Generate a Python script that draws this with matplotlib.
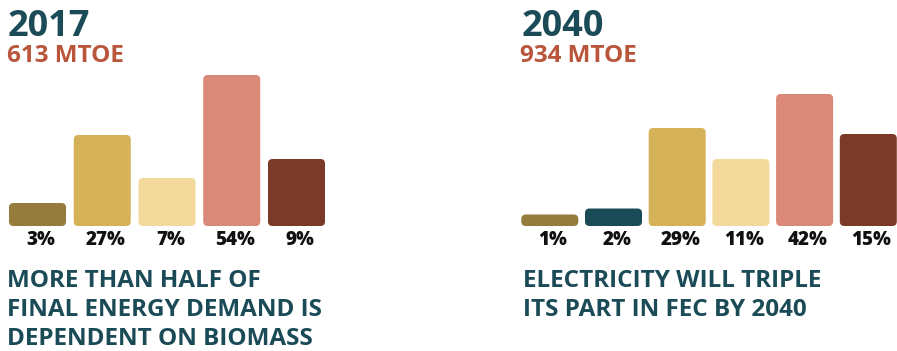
import numpy as np
import matplotlib
matplotlib.use('Agg')
import matplotlib.pyplot as plt
from matplotlib.patches import FancyBboxPatch

# ---------------------------------------------- Data
labels_2017 = ['3%', '27%', '7%', '54%', '9%']
heights_2017 = [23, 91, 48, 151, 67]
colors_2017 = ['#957B3C', '#D5B257', '#F3DA9C', '#DA8878', '#7B3A27']

labels_2040 = ['1%', '2%', '29%', '11%', '42%', '15%']
heights_2040 = [11.5, 17.5, 98, 67, 132, 92]
colors_2040 = ['#957B3C', '#1B4B57', '#D5B257', '#F3DA9C', '#DA8878', '#7B3A27']

years = ['2017', '2040']
totals = ['613 MTOE', '934 MTOE']
captions = ['MORE THAN HALF OF\nFINAL ENERGY DEMAND IS\nDEPENDENT ON BIOMASS',
            'ELECTRICITY WILL TRIPLE\nITS PART IN FEC BY 2040']

# ---------------------------------------------- Style
W, H = 897, 351
TEAL = '#1B4B57'
RUST = '#B9553B'
FONT = 'Open Sans'
plt.rcParams['font.family'] = [FONT, 'DejaVu Sans']

fig = plt.figure(figsize=(W / 100, H / 100), dpi=100)


def px(x, y):
    return x / W, 1 - y / H


def panel(first_center, pitch, bar_w, right_px, heights, colors, labels):
    # axes in pixel units: 1 y-unit = 1 px, 1 x-unit = pitch px
    base = 226
    top = 40
    left = first_center - pitch / 2
    ax = fig.add_axes([left / W, (H - base) / H, (right_px - left) / W, (base - top) / H])
    n = len(heights)
    x = np.arange(n)
    bars = ax.bar(x, heights, width=bar_w / pitch, color=colors)
    ax.set_xlim(-0.5, -0.5 + (right_px - left) / pitch)
    ax.set_ylim(0, base - top)
    # swap plain rectangles for rounded ones
    for b, c in zip(bars, colors):
        b.set_visible(False)
        r = min(4.5, b.get_height() / 2)
        ax.add_patch(FancyBboxPatch((b.get_x(), b.get_y()), b.get_width(), b.get_height(),
                                    boxstyle='round,pad=0,rounding_size=%f' % (r / pitch),
                                    mutation_aspect=pitch, fc=c, ec='none'))
    for xi, lab in zip(x, labels):
        ax.text(xi + 0.05, -14, lab, ha='center', va='center', fontsize=13.5,
                fontweight=800, color='#111111', clip_on=False)
    ax.axis('off')
    return ax


panel(37.5, 64.75, 57, 333, heights_2017, colors_2017, labels_2017)
panel(549.8, 63.7, 57, 897, heights_2040, colors_2040, labels_2040)

# ---------------------------------------------- Titles and captions
for (x0, x1), yr, tot in zip([(8, 7), (522, 520)], years, totals):
    fig.text(*px(x0, 36), yr, fontsize=26, fontweight='bold', color=TEAL, va='baseline')
    fig.text(*px(x1, 62), tot, fontsize=17.5, fontweight='bold', color=RUST, va='baseline')

for x0, cap in zip([7, 523], captions):
    for i, line in enumerate(cap.split('\n')):
        fig.text(*px(x0, 287 + i * 29), line, fontsize=17.5, fontweight='bold',
                 color=TEAL, va='baseline')

plt.savefig('out.png', dpi=100)
